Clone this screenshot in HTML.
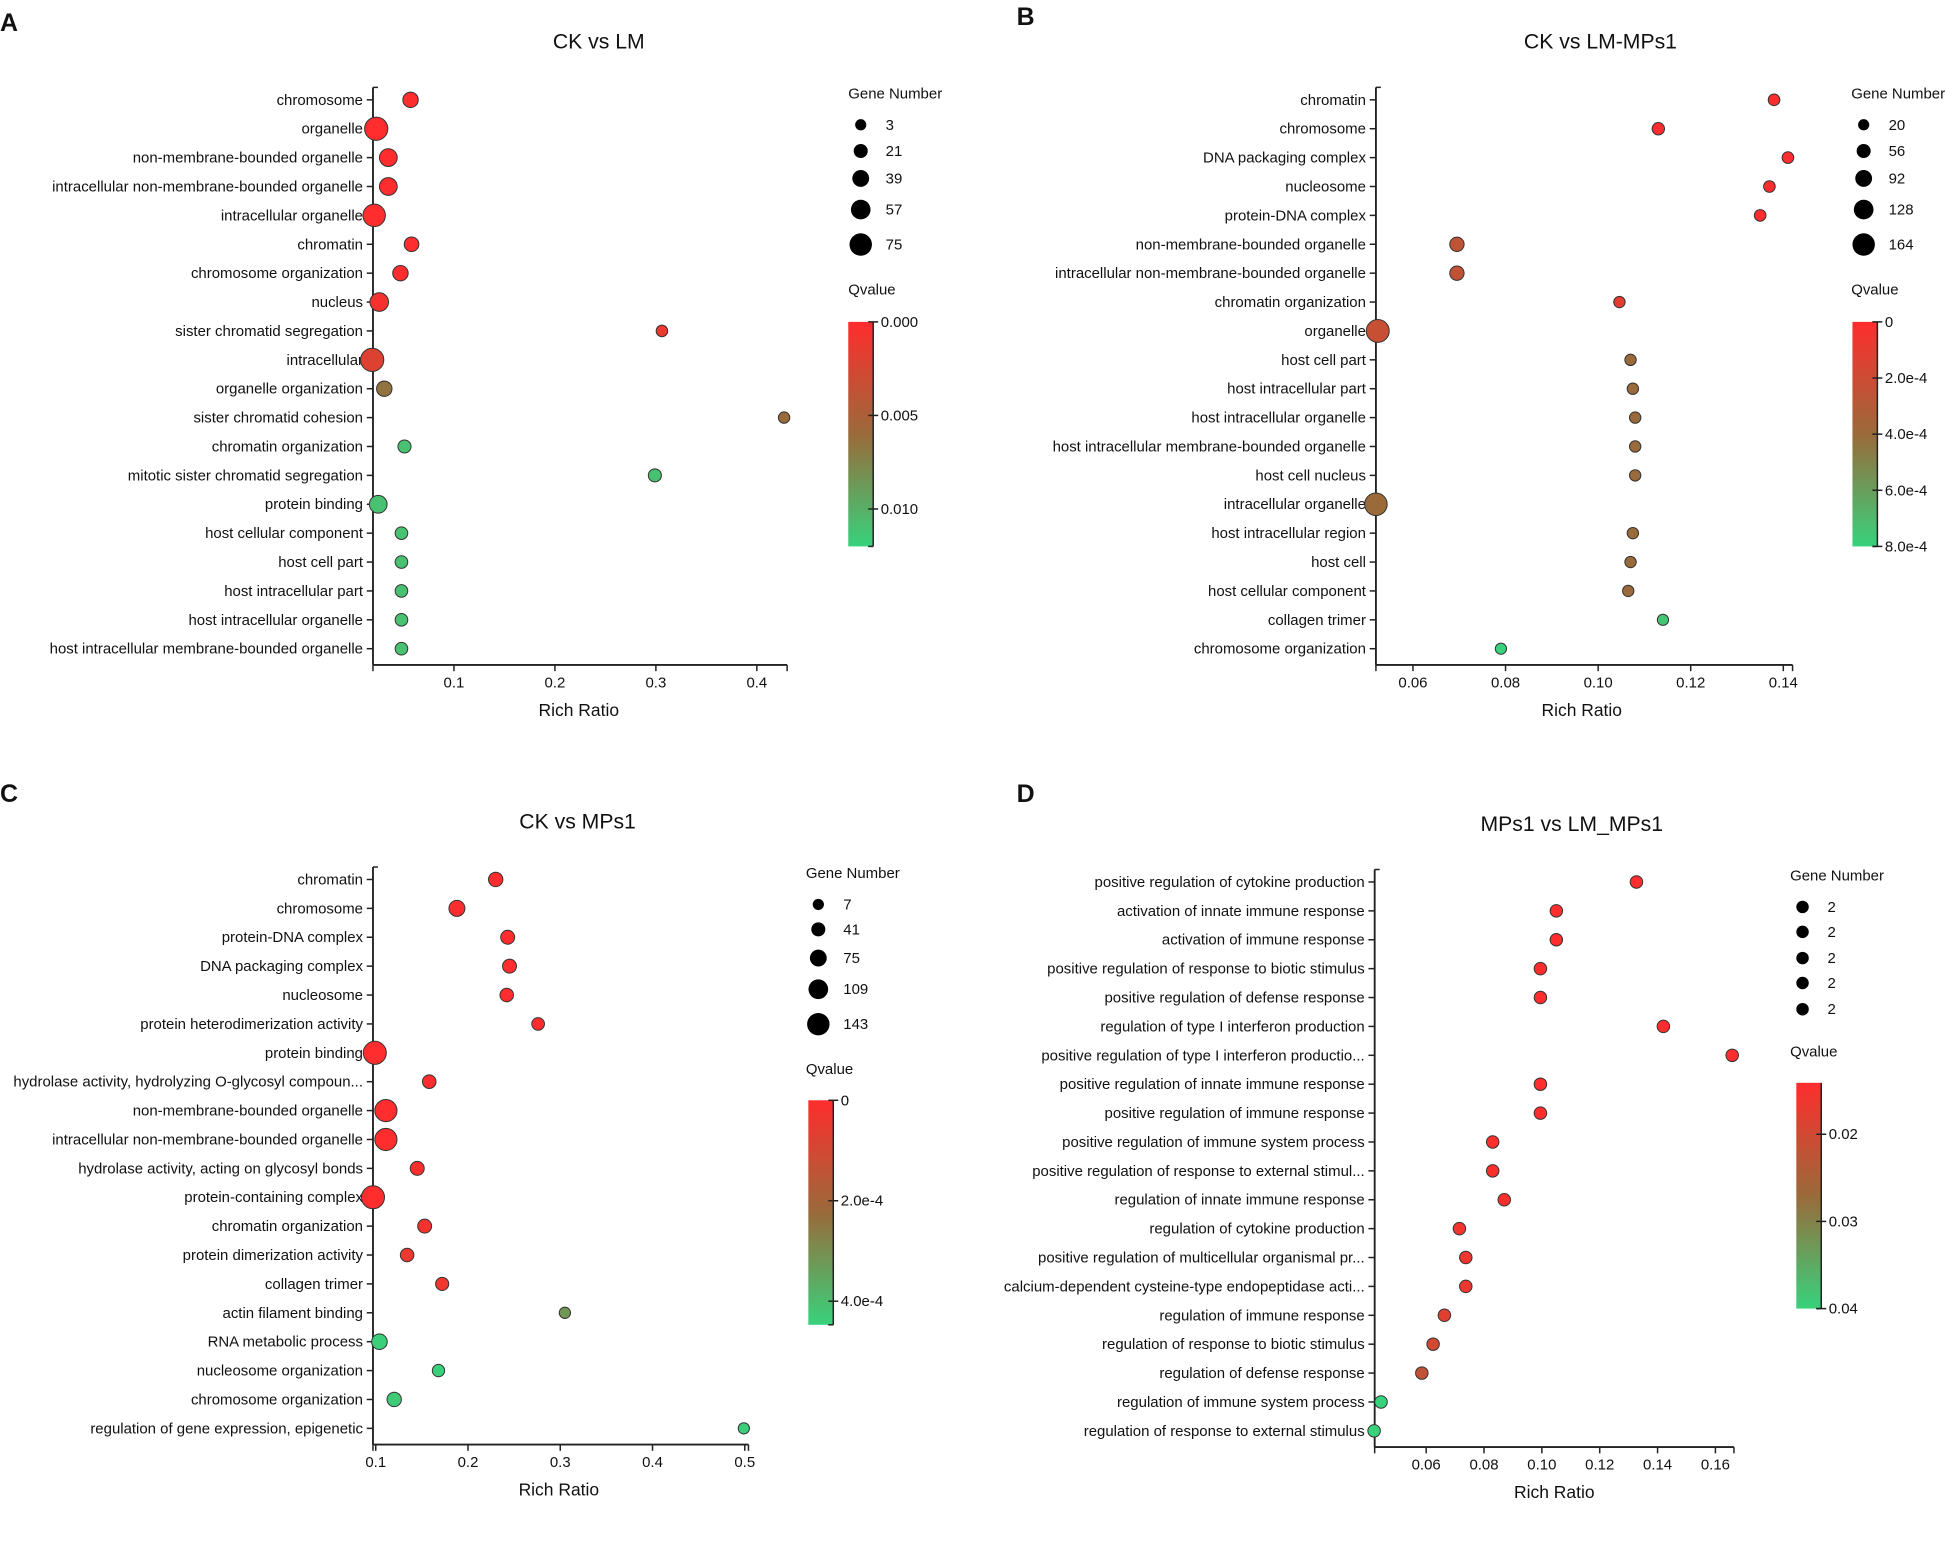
<!DOCTYPE html>
<html><head><meta charset="utf-8"><style>
html,body{margin:0;padding:0;background:#fff;}
svg{display:block;font-family:"Liberation Sans",Arial,sans-serif;}
</style></head><body>
<svg id="fig" width="1946" height="1560" viewBox="0 0 1560 1250.5" xmlns="http://www.w3.org/2000/svg">
<defs>
<linearGradient id="qgrad" x1="0" y1="0" x2="0" y2="1">
<stop offset="0" stop-color="#ff2d2d"/><stop offset="0.5" stop-color="#9a6a3a"/><stop offset="1" stop-color="#38d27c"/>
</linearGradient>
</defs>
</svg>
<script>
// Panel A data
const termsA = ["chromosome","organelle","non-membrane-bounded organelle","intracellular non-membrane-bounded organelle","intracellular organelle","chromatin","chromosome organization","nucleus","sister chromatid segregation","intracellular","organelle organization","sister chromatid cohesion","chromatin organization","mitotic sister chromatid segregation","protein binding","host cellular component","host cell part","host intracellular part","host intracellular organelle","host intracellular membrane-bounded organelle"];
const ratioA = [0.057,0.023,0.035,0.035,0.021,0.058,0.047,0.026,0.306,0.019,0.031,0.427,0.051,0.299,0.025,0.048,0.048,0.048,0.048,0.048];
const genesA = [30,80,45,45,75,25,30,50,5,80,30,4,15,15,45,12,12,12,12,12];
const qA = [0,0,0,0,0,0,0,0.0005,0.001,0.002,0.0065,0.006,0.011,0.011,0.011,0.011,0.011,0.011,0.011,0.011];
const xticksA = [0.1,0.2,0.3,0.4];
const legGenesA = [3,21,39,57,75];
const qticksA = [0,0.005,0.010];
const qlabelsA = ["0.000","0.005","0.010"];
// Panel B data
const termsB = ["chromatin","chromosome","DNA packaging complex","nucleosome","protein-DNA complex","non-membrane-bounded organelle","intracellular non-membrane-bounded organelle","chromatin organization","organelle","host cell part","host intracellular part","host intracellular organelle","host intracellular membrane-bounded organelle","host cell nucleus","intracellular organelle","host intracellular region","host cell","host cellular component","collagen trimer","chromosome organization"];
const ratioB = [0.138,0.113,0.141,0.137,0.135,0.0695,0.0695,0.1046,0.0524,0.107,0.1075,0.108,0.108,0.108,0.052,0.1075,0.107,0.1065,0.114,0.079];
const genesB = [25,35,25,25,25,60,60,22,170,22,22,22,22,22,165,22,22,22,20,20];
const qB = [0,0,0,0,0,0.00025,0.00025,0.0001,0.00022,0.0004,0.0004,0.0004,0.0004,0.0004,0.0004,0.0004,0.0004,0.0004,0.00075,0.0008];
const xticksB = [0.06,0.08,0.10,0.12,0.14];
const legGenesB = [20,56,92,128,164];
const qticksB = [0,0.0002,0.0004,0.0006,0.0008];
const qlabelsB = ["0","2.0e-4","4.0e-4","6.0e-4","8.0e-4"];
// Panel C data
const termsC = ["chromatin","chromosome","protein-DNA complex","DNA packaging complex","nucleosome","protein heterodimerization activity","protein binding","hydrolase activity, hydrolyzing O-glycosyl compoun...","non-membrane-bounded organelle","intracellular non-membrane-bounded organelle","hydrolase activity, acting on glycosyl bonds","protein-containing complex","chromatin organization","protein dimerization activity","collagen trimer","actin filament binding","RNA metabolic process","nucleosome organization","chromosome organization","regulation of gene expression, epigenetic"];
const ratioC = [0.23,0.188,0.243,0.245,0.242,0.276,0.099,0.158,0.111,0.111,0.145,0.097,0.153,0.134,0.172,0.305,0.104,0.168,0.12,0.499];
const genesC = [45,65,40,40,35,25,150,35,140,140,40,150,40,35,30,8,60,20,45,7];
const qC = [0,0,0,0,0,0,0,0,0,0,0,0,0.00002,0.00004,0.00003,0.00032,0.00044,0.00044,0.00043,0.00044];
const xticksC = [0.1,0.2,0.3,0.4,0.5];
const legGenesC = [7,41,75,109,143];
const qticksC = [0,0.0002,0.0004];
const qlabelsC = ["0","2.0e-4","4.0e-4"];
// Panel D data
const termsD = ["positive regulation of cytokine production","activation of innate immune response","activation of immune response","positive regulation of response to biotic stimulus","positive regulation of defense response","regulation of type I interferon production","positive regulation of type I interferon productio...","positive regulation of innate immune response","positive regulation of immune response","positive regulation of immune system process","positive regulation of response to external stimul...","regulation of innate immune response","regulation of cytokine production","positive regulation of multicellular organismal pr...","calcium-dependent cysteine-type endopeptidase acti...","regulation of immune response","regulation of response to biotic stimulus","regulation of defense response","regulation of immune system process","regulation of response to external stimulus"];
const ratioD = [0.1327,0.105,0.105,0.0995,0.0995,0.142,0.1658,0.0995,0.0995,0.083,0.083,0.087,0.0715,0.0737,0.0737,0.0663,0.0624,0.0585,0.0444,0.042];
const genesD = [2,2,2,2,2,2,2,2,2,2,2,2,2,2,2,2,2,2,2,2];
const qD = [0.0141,0.0141,0.0141,0.0141,0.0141,0.0141,0.0141,0.0141,0.0141,0.0145,0.0145,0.0145,0.016,0.016,0.016,0.018,0.02,0.022,0.04,0.04];
const xticksD = [0.06,0.08,0.10,0.12,0.14,0.16];
const legGenesD = [2,2,2,2,2];
const qticksD = [0.02,0.03,0.04];
const qlabelsD = ["0.02","0.03","0.04"];

const svg = document.getElementById('fig');
const NS = "http://www.w3.org/2000/svg";
function mk(tag, attrs, parent){
  const e = document.createElementNS(NS, tag);
  for (const k in attrs) e.setAttribute(k, attrs[k]);
  (parent||svg).appendChild(e);
  return e;
}
function lerp(a,b,t){return a+(b-a)*t;}
function qColor(t){
  t=Math.max(0,Math.min(1,t));
  const s=[[255,45,45],[154,106,58],[56,210,124]];
  let a,b,u;
  if(t<0.5){a=s[0];b=s[1];u=t/0.5;}else{a=s[1];b=s[2];u=(t-0.5)/0.5;}
  return `rgb(${Math.round(lerp(a[0],b[0],u))},${Math.round(lerp(a[1],b[1],u))},${Math.round(lerp(a[2],b[2],u))})`;
}
function txt(x,y,s,size,anchor,parent,weight){
  const t = mk('text',{x:x,y:y,'font-size':size,'text-anchor':anchor||'start','fill':'#111','font-weight':weight||'normal'},parent);
  t.textContent = s;
  return t;
}

function panel(c){
  const g = mk('g',{});
  
  
  const lt = txt(c.letterX, c.letterY, c.letter, 20, 'start', g, 'bold');
  
  
  const tt = txt(c.titleX, c.titleY, c.title, 17, 'middle', g);
  
  
  const xs = v => c.axX + (v - c.xmin) / (c.xmax - c.xmin) * (c.axEnd - c.axX);
  const n = c.terms.length;
  const ys = i => c.y0 + i * (c.y1 - c.y0) / (n - 1);
  const rs = gn => c.rMin + (gn - c.gMin) / Math.max(1e-9, (c.gMax - c.gMin)) * (c.rMax - c.rMin);
  const qs = q => (q - c.qTop) / (c.qBot - c.qTop);
  // axes
  const ya = mk('line',{x1:c.axX,y1:c.axTop,x2:c.axX,y2:c.axY,stroke:'#222','stroke-width':1.5},g);
  
  
  mk('line',{x1:c.axX,y1:c.axTop,x2:c.axX+4,y2:c.axTop,stroke:'#222','stroke-width':1.2},g);
  const xa = mk('line',{x1:c.axX,y1:c.axY,x2:c.axEnd,y2:c.axY,stroke:'#222','stroke-width':1.5},g);
  
  
  mk('line',{x1:c.axX,y1:c.axY,x2:c.axX,y2:c.axY+5,stroke:'#222','stroke-width':1.2},g);
  mk('line',{x1:c.axEnd,y1:c.axY,x2:c.axEnd,y2:c.axY+5,stroke:'#222','stroke-width':1.2},g);
  c.xticks.forEach(v=>{
    const x = xs(v);
    mk('line',{x1:x,y1:c.axY,x2:x,y2:c.axY+5,stroke:'#222','stroke-width':1.2},g);
    const t = txt(x, c.axY+18, c.xdec ? v.toFixed(c.xdec) : String(v), 12, 'middle', g);
    
    
  });
  const xl = txt(c.xlabX, c.axY+41, 'Rich Ratio', 14, 'middle', g);
  
  
  // rows
  c.terms.forEach((s,i)=>{
    const y = ys(i);
    mk('line',{x1:c.axX-5,y1:y,x2:c.axX,y2:y,stroke:'#222','stroke-width':1.2},g);
    const t = txt(c.axX-8, y+4, s, 12, 'end', g);
    
    
  });
  c.terms.forEach((s,i)=>{
    const dot = mk('circle',{cx:xs(c.ratio[i]),cy:ys(i),r:rs(c.genes[i]),fill:qColor(qs(c.q[i])),stroke:'#333','stroke-width':0.8},g);
    
    
  });
  // size legend
  const gl = txt(c.legX, c.legY, 'Gene Number', 12, 'start', g);
  
  
  c.legGenes.forEach((gn,i)=>{
    const y = c.legDotY[i];
    const d = mk('circle',{cx:c.legX+10,cy:y,r:rs(gn),fill:'#000'},g);
    
    
    const t = txt(c.legX+30, y+4, String(gn), 12, 'start', g);
    
    
  });
  const ql = txt(c.legX, c.qTitleY, 'Qvalue', 12, 'start', g);
  
  
  const bar = mk('rect',{x:c.cbX,y:c.cbTop,width:20,height:c.cbBot-c.cbTop,fill:'url(#qgrad)'},g);
  
  
  mk('line',{x1:c.cbX+20,y1:c.cbTop,x2:c.cbX+20,y2:c.cbBot,stroke:'#222','stroke-width':1.2},g);
  mk('line',{x1:c.cbX+20,y1:c.cbBot,x2:c.cbX+16,y2:c.cbBot,stroke:'#222','stroke-width':1.2},g);
  c.qticks.forEach((q,i)=>{
    const y = c.cbTop + qs(q)*(c.cbBot-c.cbTop);
    mk('line',{x1:c.cbX+16,y1:y,x2:c.cbX+24,y2:y,stroke:'#222','stroke-width':1.2},g);
    const t = txt(c.cbX+26, y+4, c.qlabels[i], 12, 'start', g);
    
    
  });
}

panel({name:'panel-a-ck-vs-lm',letter:'A',letterX:0,letterY:25,title:'CK vs LM',titleX:480,titleY:39,
  terms:termsA,ratio:ratioA,genes:genesA,q:qA,xticks:xticksA,xdec:0,legGenes:legGenesA,qticks:qticksA,qlabels:qlabelsA,
  xmin:0.0198,xmax:0.43,axX:299,axEnd:631,axTop:70,axY:533,y0:80,y1:520,xlabX:464,
  rMin:4.5,rMax:9,gMin:3,gMax:75,qTop:0,qBot:0.012,
  legX:680,legY:79,legDotY:[100,121,143,168,196],qTitleY:236,cbX:680,cbTop:258,cbBot:438});
panel({name:'panel-b-ck-vs-lm-mps1',letter:'B',letterX:815,letterY:20,title:'CK vs LM-MPs1',titleX:1283,titleY:39,
  terms:termsB,ratio:ratioB,genes:genesB,q:qB,xticks:xticksB,xdec:2,legGenes:legGenesB,qticks:qticksB,qlabels:qlabelsB,
  xmin:0.052,xmax:0.142,axX:1103,axEnd:1437,axTop:70,axY:533,y0:80,y1:520,xlabX:1268,
  rMin:4.5,rMax:9,gMin:20,gMax:164,qTop:0,qBot:0.0008,
  legX:1484,legY:79,legDotY:[100,121,143,168,196],qTitleY:236,cbX:1485,cbTop:258,cbBot:438});
panel({name:'panel-c-ck-vs-mps1',letter:'C',letterX:0,letterY:643,title:'CK vs MPs1',titleX:463,titleY:664,
  terms:termsC,ratio:ratioC,genes:genesC,q:qC,xticks:xticksC,xdec:0,legGenes:legGenesC,qticks:qticksC,qlabels:qlabelsC,
  xmin:0.097,xmax:0.504,axX:299,axEnd:600,axTop:695,axY:1158,y0:705,y1:1145,xlabX:448,
  rMin:4.5,rMax:9,gMin:7,gMax:143,qTop:0,qBot:0.000447,
  legX:646,legY:704,legDotY:[725,745,768,793,821],qTitleY:861,cbX:648,cbTop:882,cbBot:1062});
panel({name:'panel-d-mps1-vs-lm-mps1',letter:'D',letterX:815,letterY:643,title:'MPs1 vs LM_MPs1',titleX:1260,titleY:666,
  terms:termsD,ratio:ratioD,genes:genesD,q:qD,xticks:xticksD,xdec:2,legGenes:legGenesD,qticks:qticksD,qlabels:qlabelsD,
  xmin:0.0422,xmax:0.1664,axX:1102,axEnd:1390,axTop:697,axY:1160,y0:707,y1:1147,xlabX:1246,
  rMin:5,rMax:5,gMin:2,gMax:3,qTop:0.0141,qBot:0.04,
  legX:1435,legY:706,legDotY:[727,747,768,788,809],qTitleY:847,cbX:1440,cbTop:868,cbBot:1049});
</script>
</body></html>
